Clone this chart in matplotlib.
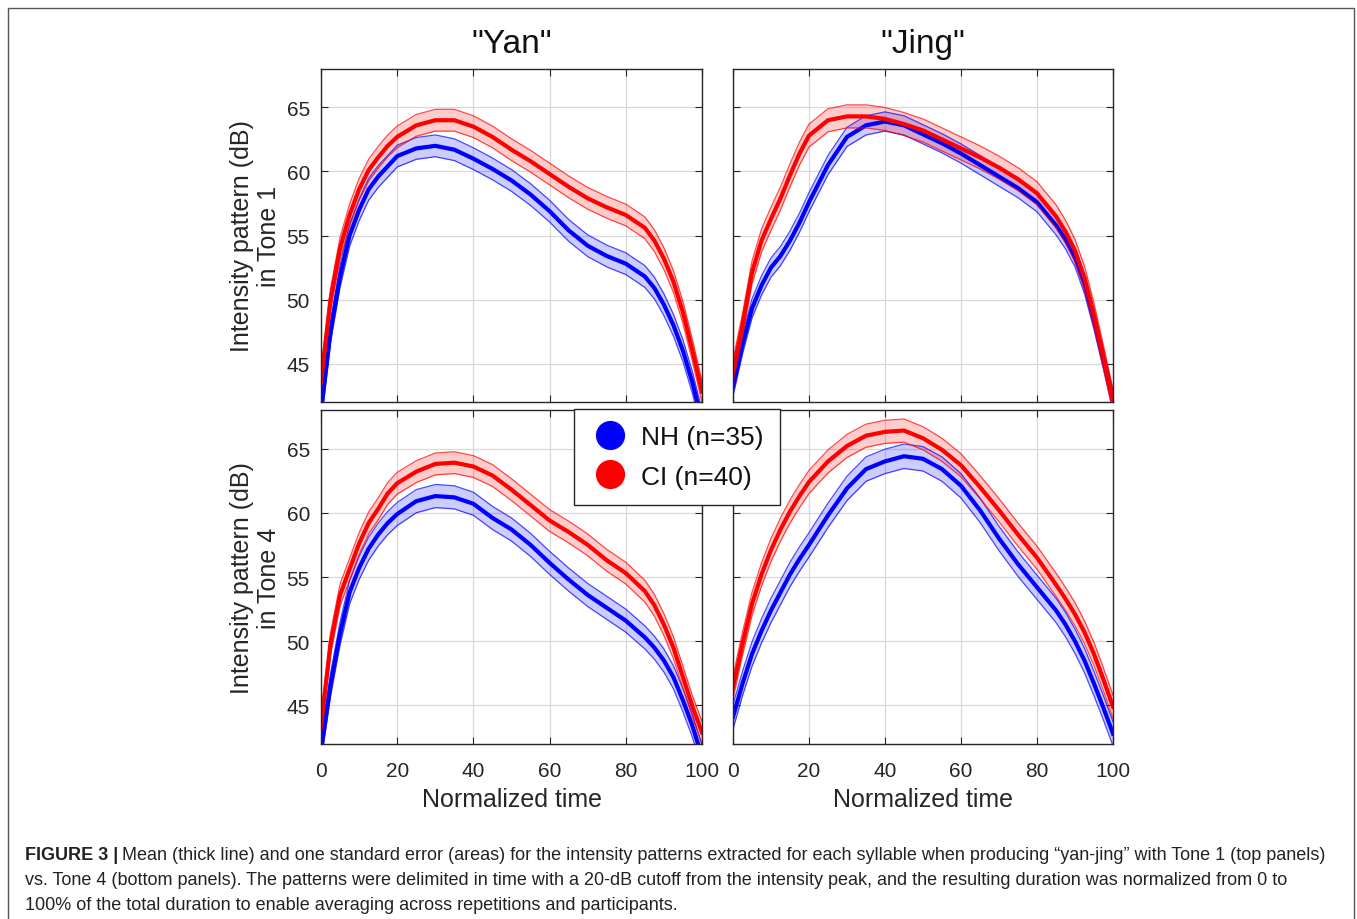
import matplotlib
matplotlib.use("Agg")
import matplotlib.pyplot as plt
from matplotlib.patches import Rectangle
from matplotlib.lines import Line2D

# Normalized time (% of duration) at which the curves were read
time_pts = [0, 2.5, 5, 7.5, 10, 12.5, 15, 17.5, 20, 25, 30, 35, 40, 45, 50,
            55, 60, 65, 70, 75, 80, 85, 87.5, 90, 92.5, 95, 97.5, 100]

# "Yan", Tone 1
yan_t1_nh = [41.2, 47.5, 51.8, 55.0, 57.0, 58.6, 59.6, 60.4, 61.2, 61.8, 62.0, 61.7, 61.0, 60.2, 59.3,
             58.2, 56.9, 55.4, 54.2, 53.4, 52.8, 51.8, 50.9, 49.6, 48.0, 46.0, 43.5, 40.5]
yan_t1_ci = [43.6, 50.0, 54.0, 56.6, 58.6, 60.1, 61.1, 62.0, 62.7, 63.6, 64.0, 64.0, 63.5, 62.7, 61.7,
             60.8, 59.8, 58.8, 57.9, 57.2, 56.6, 55.6, 54.6, 53.2, 51.4, 49.0, 46.0, 42.8]

# "Jing", Tone 1
jing_t1_nh = [43.2, 46.5, 49.3, 51.1, 52.5, 53.4, 54.6, 56.0, 57.6, 60.5, 62.7, 63.6, 63.9, 63.6, 62.9,
              62.2, 61.4, 60.5, 59.6, 58.7, 57.6, 55.8, 54.7, 53.3, 51.2, 48.4, 45.3, 42.1]
jing_t1_ci = [44.4, 48.0, 52.1, 54.6, 56.3, 57.9, 59.7, 61.4, 62.8, 64.0, 64.3, 64.3, 64.1, 63.7, 63.2,
              62.5, 61.8, 61.1, 60.3, 59.4, 58.3, 56.5, 55.3, 53.8, 51.7, 48.8, 45.5, 42.1]

# "Yan", Tone 4
yan_t4_nh = [41.5, 46.6, 50.6, 53.8, 55.7, 57.2, 58.3, 59.2, 59.9, 60.9, 61.3, 61.2, 60.7, 59.6, 58.7,
             57.5, 56.1, 54.8, 53.6, 52.6, 51.6, 50.3, 49.5, 48.5, 47.2, 45.4, 43.4, 41.0]
yan_t4_ci = [43.4, 49.8, 53.6, 55.6, 57.6, 59.2, 60.3, 61.5, 62.3, 63.2, 63.8, 63.9, 63.6, 62.9, 61.8,
             60.6, 59.4, 58.5, 57.5, 56.3, 55.3, 53.9, 52.8, 51.3, 49.5, 47.2, 44.9, 42.9]

# "Jing", Tone 4
jing_t4_nh = [44.1, 46.7, 49.0, 50.8, 52.4, 53.8, 55.2, 56.4, 57.5, 59.8, 61.9, 63.4, 64.0, 64.4, 64.2,
              63.4, 62.1, 60.2, 58.0, 56.0, 54.2, 52.4, 51.3, 50.0, 48.5, 46.7, 44.8, 42.8]
jing_t4_ci = [46.4, 49.8, 52.9, 55.2, 57.1, 58.7, 60.1, 61.3, 62.4, 64.0, 65.2, 66.0, 66.3, 66.4, 65.8,
              64.9, 63.7, 62.0, 60.2, 58.3, 56.5, 54.4, 53.3, 52.1, 50.7, 49.0, 47.0, 44.9]

# one standard error (dB) per panel and group
se_nh = {"yan1": 0.85, "jing1": 0.75, "yan4": 0.9, "jing4": 0.95}
se_ci = {"yan1": 0.85, "jing1": 0.9, "yan4": 0.85, "jing4": 0.9}

groups = ["NH (n=35)", "CI (n=40)"]
syllables = ['"Yan"', '"Jing"']
tones = ["Tone 1", "Tone 4"]

plt.rcParams["font.family"] = ["Liberation Sans", "DejaVu Sans"]
TXT = "#262626"

fig = plt.figure(figsize=(13.57, 9.20), dpi=100)

# panel boxes in pixels (left, top, right, bottom)
W, H = 1357, 920
boxes = {
    "yan1": (321, 70, 702, 403),
    "jing1": (733, 70, 1113, 403),
    "yan4": (321, 411, 702, 745),
    "jing4": (733, 411, 1113, 745),
}
panel_data = {
    "yan1": (yan_t1_nh, yan_t1_ci),
    "jing1": (jing_t1_nh, jing_t1_ci),
    "yan4": (yan_t4_nh, yan_t4_ci),
    "jing4": (jing_t4_nh, jing_t4_ci),
}

axes = {}
for key, (l, t, r, b) in boxes.items():
    ax = fig.add_axes([l / W, 1 - b / H, (r - l) / W, (b - t) / H])
    axes[key] = ax
    nh, ci = panel_data[key]
    for vals, se, col in [(nh, se_nh[key], "#0000ff"), (ci, se_ci[key], "#ff0000")]:
        lo = [v - se for v in vals]
        hi = [v + se for v in vals]
        ax.fill_between(time_pts, lo, hi, color=col, alpha=0.2, linewidth=0)
        ax.plot(time_pts, lo, color=col, lw=0.9, alpha=0.7)
        ax.plot(time_pts, hi, color=col, lw=0.9, alpha=0.7)
        ax.plot(time_pts, vals, color=col, lw=3.0, solid_joinstyle="round")
    ax.set_xlim(0, 100)
    ax.set_ylim(42, 68)
    ax.set_xticks([0, 20, 40, 60, 80, 100])
    ax.set_yticks([45, 50, 55, 60, 65])
    ax.grid(True, color="#d9d9d9", lw=0.9)
    ax.set_axisbelow(True)
    ax.tick_params(direction="in", top=True, right=True, length=5, width=0.8,
                   colors=TXT, labelsize=15)
    ax.tick_params(axis="x", pad=12)
    ax.tick_params(axis="y", pad=8)
    for sp in ax.spines.values():
        sp.set_color(TXT)
        sp.set_linewidth(1.0)

for key in ["yan1", "jing1"]:
    axes[key].tick_params(labelbottom=False)
for key in ["jing1", "jing4"]:
    axes[key].tick_params(labelleft=False)

axes["yan1"].set_title(syllables[0], fontsize=24, pad=12, color="#111111")
axes["jing1"].set_title(syllables[1], fontsize=24, pad=12, color="#111111")

for key, tone in [("yan1", tones[0]), ("yan4", tones[1])]:
    axes[key].set_ylabel("Intensity pattern (dB)\nin " + tone, fontsize=18,
                         color=TXT, labelpad=4, linespacing=1.15)
for key in ["yan4", "jing4"]:
    axes[key].set_xlabel("Normalized time", fontsize=18, color=TXT, labelpad=5)

handles = [
    Line2D([], [], ls="none", marker="o", markersize=20, color="#0000ff"),
    Line2D([], [], ls="none", marker="o", markersize=20, color="#ff0000"),
]
leg = fig.legend(handles, groups, loc="upper left", bbox_to_anchor=(574 / W, 1 - 410 / H),
                 fontsize=19, frameon=True, fancybox=False, framealpha=1,
                 edgecolor=TXT, handletextpad=0.45, borderpad=0.6, labelspacing=0.6,
                 handlelength=1.5, borderaxespad=0)
leg.get_frame().set_linewidth(1.0)
for txt in leg.get_texts():
    txt.set_color("#111111")

# outer frame of the figure page
fig.add_artist(Rectangle((8 / W, -0.05), (1354 - 8) / W, 1.05 - 9 / H,
                         transform=fig.transFigure, fill=False, ec="#555555", lw=1.0))

# caption
cap_size = 13.0
cap_lines = [
    "Mean (thick line) and one standard error (areas) for the intensity patterns extracted for each syllable when producing \u201cyan-jing\u201d with Tone 1 (top panels)",
    "vs. Tone 4 (bottom panels). The patterns were delimited in time with a 20-dB cutoff from the intensity peak, and the resulting duration was normalized from 0 to",
    "100% of the total duration to enable averaging across repetitions and participants.",
]
renderer = fig.canvas.get_renderer()
bold = fig.text(25 / W, 1 - 856 / H, "FIGURE 3 |", fontsize=cap_size, weight="bold",
                color="#222222", va="center", ha="left")
bb = bold.get_window_extent(renderer)
fig.text((bb.x1 + 4) / W, 1 - 856 / H, cap_lines[0], fontsize=cap_size, color="#222222",
         va="center", ha="left")
fig.text(25 / W, 1 - 881 / H, cap_lines[1], fontsize=cap_size, color="#222222",
         va="center", ha="left")
fig.text(25 / W, 1 - 906 / H, cap_lines[2], fontsize=cap_size, color="#222222",
         va="center", ha="left")

fig.savefig("out.png", dpi=100)
